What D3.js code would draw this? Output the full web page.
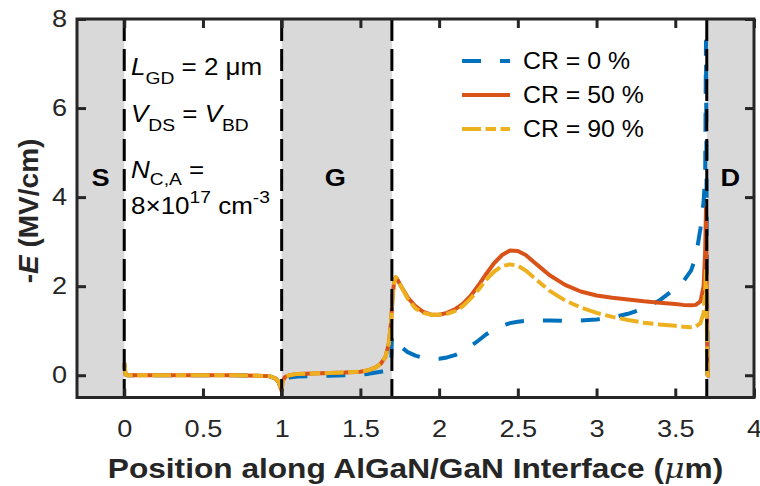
<!DOCTYPE html>
<html>
<head>
<meta charset="utf-8">
<script src="https://cdn.jsdelivr.net/npm/d3@7"></script>
<style>
  html, body { margin: 0; padding: 0; background: #fff; }
  svg { display: block; font-family: "Liberation Sans", Arial, Helvetica, sans-serif; }
</style>
</head>
<body>
<svg id="chart" width="760" height="486"></svg>
<script>
// ---------- data ----------
const xPos = [0, 0.008, 0.02, 0.1, 0.3, 0.5, 0.7, 0.85, 0.92, 0.96, 0.98, 0.995, 1.0, 1.005, 1.02, 1.05, 1.1, 1.2, 1.3, 1.4, 1.5, 1.55, 1.6, 1.63, 1.66, 1.68, 1.695, 1.7, 1.705, 1.715, 1.725, 1.735, 1.75, 1.8, 1.85, 1.9, 1.95, 2.0, 2.05, 2.1, 2.15, 2.2, 2.25, 2.3, 2.35, 2.4, 2.45, 2.5, 2.55, 2.6, 2.65, 2.7, 2.8, 2.9, 3.0, 3.1, 3.2, 3.3, 3.4, 3.5, 3.55, 3.6, 3.63, 3.66, 3.68, 3.69, 3.695, 3.7, 3.705, 3.72];

const cr0 = [0.25, 0.02, 0, 0, 0, 0, 0, -0.01, -0.02, -0.07, -0.15, -0.3, -0.34, -0.2, -0.1, -0.05, -0.03, -0.02, -0.01, 0.0, 0.01, 0.03, 0.06, 0.08, 0.1, 0.12, 0.2, 0.85, 0.88, 0.85, 0.78, 0.72, 0.66, 0.52, 0.44, 0.39, 0.37, 0.37, 0.4, 0.45, 0.53, 0.65, 0.78, 0.92, 1.03, 1.11, 1.17, 1.2, 1.22, 1.23, 1.23, 1.23, 1.22, 1.23, 1.25, 1.3, 1.38, 1.5, 1.68, 1.95, 2.1, 2.35, 2.65, 3.3, 3.9, 4.5, 7.5, 3.0, 0, 0];

const cr50 = [0.28, 0.02, 0, 0, 0, 0, 0, -0.01, -0.02, -0.07, -0.15, -0.3, -0.35, -0.15, -0.04, 0.0, 0.03, 0.04, 0.05, 0.06, 0.08, 0.11, 0.18, 0.26, 0.42, 0.7, 1.2, 1.5, 1.8, 2.1, 2.2, 2.15, 2.05, 1.75, 1.55, 1.42, 1.36, 1.36, 1.4, 1.48, 1.6, 1.78, 2.02, 2.28, 2.52, 2.7, 2.8, 2.79, 2.7, 2.55, 2.4, 2.25, 2.03, 1.88, 1.79, 1.74, 1.7, 1.66, 1.63, 1.6, 1.58, 1.57, 1.58, 1.66, 2.0, 2.8, 3.75, 2.0, 0, 0];

const cr90 = [0.28, 0.02, 0, 0, 0, 0, 0, -0.01, -0.02, -0.07, -0.15, -0.3, -0.35, -0.15, -0.04, 0.0, 0.03, 0.04, 0.05, 0.06, 0.08, 0.11, 0.18, 0.26, 0.42, 0.7, 1.2, 1.5, 1.8, 2.1, 2.2, 2.15, 2.05, 1.72, 1.5, 1.4, 1.36, 1.36, 1.38, 1.44, 1.55, 1.72, 1.92, 2.15, 2.33, 2.45, 2.49, 2.46, 2.35, 2.2, 2.05, 1.9, 1.68, 1.52, 1.4, 1.31, 1.24, 1.18, 1.14, 1.11, 1.09, 1.08, 1.09, 1.17, 1.4, 1.9, 2.4, 1.2, 0, 0];

const seriesNames = ["CR = 0 %", "CR = 50 %", "CR = 90 %"];
const xTicks = [0, 0.5, 1, 1.5, 2, 2.5, 3, 3.5, 4];
const yTicks = [0, 2, 4, 6, 8];
const regionBounds = [[-0.3, 0], [1, 1.7], [3.7, 4]];
const regionLabels = ["S", "G", "D"];
const regionLabelX = [-0.15, 1.34, 3.85];
const boundaryLines = [0, 1, 1.7, 3.7];

// ---------- layout ----------
const L = 77, R = 754, T = 19, B = 397.5;
const STRETCH = 1.13; // horizontal widening of glyphs seen in the reference
const svg = d3.select("#chart");
const x = d3.scaleLinear().domain([-0.3, 4]).range([L, R]);
const y = d3.scaleLinear().domain([-0.5, 8]).range([B, T]);
const axisColor = "#262626";

function widen(sel, k) {
  sel.each(function () {
    const len = this.getComputedTextLength();
    if (len > 0) d3.select(this).attr("textLength", len * k).attr("lengthAdjust", "spacingAndGlyphs");
  });
}

// shaded regions
svg.append("g").selectAll("rect").data(regionBounds).join("rect")
  .attr("x", d => x(d[0])).attr("y", T)
  .attr("width", d => x(d[1]) - x(d[0])).attr("height", B - T)
  .attr("fill", "#d9d9d9");

// curves
const line = d3.line().x(d => x(d[0])).y(d => y(d[1]));
const styles = [
  { color: "#0072BD", dash: "19,19", data: cr0 },
  { color: "#D95319", dash: null, data: cr50 },
  { color: "#EDB120", dash: "19,4.5,10.5,4.5", data: cr90 }
];
const gCurves = svg.append("g");
styles.forEach(s => {
  const pts = xPos.map((xv, i) => [xv, s.data[i]]);
  gCurves.append("path").datum(pts)
    .attr("d", line)
    .attr("fill", "none")
    .attr("stroke", s.color)
    .attr("stroke-width", 4)
    .attr("stroke-linejoin", "round")
    .attr("stroke-dasharray", s.dash);
});

// boundary dashed lines
svg.append("g").selectAll("line").data(boundaryLines).join("line")
  .attr("x1", d => x(d)).attr("x2", d => x(d))
  .attr("y1", T).attr("y2", B)
  .attr("stroke", "#000").attr("stroke-width", 3)
  .attr("stroke-dasharray", "22,8");

// region labels
svg.append("g").selectAll("text").data(regionLabels).join("text")
  .attr("x", (d, i) => x(regionLabelX[i])).attr("y", 186)
  .attr("text-anchor", "middle")
  .attr("font-size", 24).attr("font-weight", "bold").attr("fill", "#000")
  .text(d => d)
  .call(widen, STRETCH);

// axes
function styleAxis(g) {
  g.select(".domain").remove();
  g.selectAll(".tick line").attr("stroke", axisColor).attr("stroke-width", 3);
  g.selectAll(".tick text").attr("fill", axisColor).attr("font-size", 24)
    .attr("font-family", "Liberation Sans, Arial, sans-serif");
}
svg.append("g").attr("transform", `translate(0,${B})`)
  .call(d3.axisBottom(x).tickValues(xTicks).tickSizeInner(-9).tickSizeOuter(0).tickPadding(22).tickFormat(d3.format("")))
  .call(styleAxis)
  .call(g => g.selectAll(".tick text").call(widen, STRETCH));
svg.append("g").attr("transform", `translate(0,${T})`)
  .call(d3.axisTop(x).tickValues(xTicks).tickSizeInner(-9).tickSizeOuter(0).tickFormat(""))
  .call(styleAxis);
svg.append("g").attr("transform", `translate(${L},0)`)
  .call(d3.axisLeft(y).tickValues(yTicks).tickSizeInner(-9).tickSizeOuter(0).tickPadding(10))
  .call(styleAxis)
  .call(g => g.selectAll(".tick text").call(widen, STRETCH));
svg.append("g").attr("transform", `translate(${R},0)`)
  .call(d3.axisRight(y).tickValues(yTicks).tickSizeInner(-9).tickSizeOuter(0).tickFormat(""))
  .call(styleAxis);

// frame
svg.append("rect").attr("x", L).attr("y", T).attr("width", R - L).attr("height", B - T)
  .attr("fill", "none").attr("stroke", axisColor).attr("stroke-width", 3);

// axis titles
const xt = svg.append("text").attr("x", (L + R) / 2).attr("y", 478)
  .attr("text-anchor", "middle").attr("font-size", 28).attr("font-weight", "bold").attr("fill", axisColor);
xt.append("tspan").text("Position along AlGaN/GaN Interface (");
xt.append("tspan").attr("font-style", "italic").attr("font-family", "DejaVu Serif, serif").attr("font-weight", "normal").text("μ");
xt.append("tspan").text("m)");
xt.call(widen, STRETCH);

const yt = svg.append("text").attr("transform", `translate(38,211) rotate(-90)`)
  .attr("text-anchor", "middle").attr("font-size", 28).attr("font-weight", "bold").attr("fill", axisColor);
yt.append("tspan").text("-");
yt.append("tspan").attr("font-style", "italic").text("E");
yt.append("tspan").text(" (MV/cm)");

// annotations
const ann = svg.append("g").attr("font-size", 23).attr("fill", "#000");
function addText(xp, yp, parts, subDy) {
  const t = ann.append("text").attr("x", xp).attr("y", yp);
  let shift = 0;
  parts.forEach(p => {
    const ts = t.append("tspan").text(p.t);
    const target = p.sub ? subDy : (p.sup ? -11 : 0);
    if (target !== shift) { ts.attr("dy", target - shift); shift = target; }
    if (p.sub || p.sup) ts.attr("font-size", 17);
    if (p.i) ts.attr("font-style", "italic");
  });
  t.call(widen, STRETCH);
}
addText(131, 75, [{ t: "L", i: true }, { t: "GD", sub: true }, { t: " = 2 μm" }], 9);
addText(131, 122, [{ t: "V", i: true }, { t: "DS", sub: true }, { t: " = " }, { t: "V", i: true }, { t: "BD", sub: true }], 9);
addText(131, 178, [{ t: "N", i: true }, { t: "C,A", sub: true }, { t: " =" }], 7);
addText(131, 214, [{ t: "8×10" }, { t: "17", sup: true }, { t: " cm" }, { t: "-3", sup: true }], 9);

// legend
const lg = svg.append("g");
seriesNames.forEach((name, i) => {
  const yy = 61 + i * 34;
  lg.append("line").attr("x1", 462).attr("x2", 510).attr("y1", yy).attr("y2", yy)
    .attr("stroke", styles[i].color).attr("stroke-width", 4)
    .attr("stroke-dasharray", styles[i].dash);
  lg.append("text").attr("x", 523).attr("y", yy + 8).attr("font-size", 23).attr("fill", "#000").text(name)
    .call(widen, 1.08);
});
</script>
</body>
</html>
